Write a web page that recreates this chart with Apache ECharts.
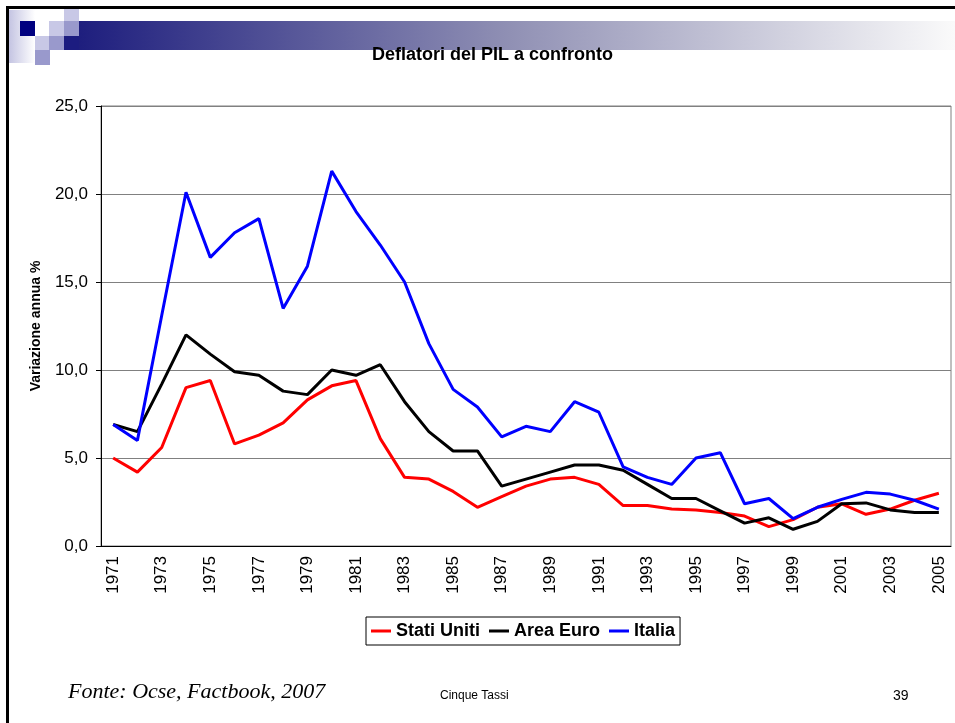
<!DOCTYPE html>
<html>
<head>
<meta charset="utf-8">
<title>Deflatori del PIL a confronto</title>
<script src="https://cdn.jsdelivr.net/npm/echarts@6/dist/echarts.min.js"></script>
<style>
  html, body { margin: 0; padding: 0; background: #fff; }
  #chart { width: 955px; height: 723px; }
</style>
</head>
<body>
<div id="chart"></div>
<script>
// Data (variazione annua %)
const years = [
  '1971', '1972', '1973', '1974', '1975', '1976', '1977', '1978', '1979', '1980',
  '1981', '1982', '1983', '1984', '1985', '1986', '1987', '1988', '1989', '1990',
  '1991', '1992', '1993', '1994', '1995', '1996', '1997', '1998', '1999', '2000',
  '2001', '2002', '2003', '2004', '2005'
];
const statiUniti = [
  5.0, 4.2, 5.6, 9.0, 9.4, 5.8, 6.3, 7.0, 8.3, 9.1,
  9.4, 6.1, 3.9, 3.8, 3.1, 2.2, 2.8, 3.4, 3.8, 3.9,
  3.5, 2.3, 2.3, 2.1, 2.05, 1.9, 1.7, 1.1, 1.5, 2.2,
  2.4, 1.8, 2.1, 2.6, 3.0
];
const areaEuro = [
  6.9, 6.5, 9.2, 12.0, 10.9, 9.9, 9.7, 8.8, 8.6, 10.0,
  9.7, 10.3, 8.2, 6.5, 5.4, 5.4, 3.4, 3.8, 4.2, 4.6,
  4.6, 4.3, 3.5, 2.7, 2.7, 2.0, 1.3, 1.6, 0.95, 1.4,
  2.4, 2.45, 2.05, 1.9, 1.9
];
const italia = [
  6.9, 6.0, 13.1, 20.1, 16.4, 17.8, 18.6, 13.5, 15.9, 21.3,
  19.0, 17.1, 15.0, 11.5, 8.9, 7.9, 6.2, 6.8, 6.5, 8.2,
  7.6, 4.5, 3.9, 3.5, 5.0, 5.3, 2.4, 2.7, 1.55, 2.2,
  2.65, 3.05, 2.95, 2.6, 2.1
];

const FONT = 'Arial, "Liberation Sans", sans-serif';

const chart = echarts.init(document.getElementById('chart'));

// slide decoration: frame, gradient band, squares
const square = (x, y, w, h, fill) => ({
  type: 'rect', z: 1, silent: true,
  shape: { x: x, y: y, width: w, height: h },
  style: { fill: fill }
});

const decor = [
  { type: 'rect', z: 0, silent: true,
    shape: { x: 9, y: 10, width: 26, height: 53 },
    style: { fill: { type: 'linear', x: 0, y: 0, x2: 1, y2: 0,
      colorStops: [{ offset: 0, color: '#c4c4e2' }, { offset: 1, color: '#ffffff' }] } } },
  { type: 'rect', z: 0, silent: true,
    shape: { x: 64, y: 21, width: 891, height: 29 },
    style: { fill: { type: 'linear', x: 0, y: 0, x2: 1, y2: 0,
      colorStops: [
        { offset: 0, color: '#1a1a7c' },
        { offset: 0.5, color: '#9090b4' },
        { offset: 1, color: '#fafafa' }
      ] } } },
  square(20, 21, 15, 15, '#000080'),
  square(49, 21, 15, 15, '#c8c8e6'),
  square(64, 9, 15, 12, '#c8c8e6'),
  square(64, 21, 15, 15, '#9999cc'),
  square(64, 36, 15, 14, '#1c1c80'),
  square(35, 36, 14, 14, '#c8c8e6'),
  square(49, 36, 15, 14, '#9999cc'),
  square(35, 50, 15, 15, '#9999cc'),
  square(6, 6, 949, 3, '#000000'),
  square(6, 6, 3, 717, '#000000'),
  { type: 'text', silent: true, left: 68, top: 681,
    style: { text: 'Fonte: Ocse, Factbook, 2007', fill: '#000',
      font: 'italic 22px "Times New Roman", "Liberation Serif", serif' } },
  { type: 'text', silent: true, left: 440, top: 690,
    style: { text: 'Cinque Tassi', fill: '#000', font: '12px ' + FONT } },
  { type: 'text', silent: true, left: 893, top: 689,
    style: { text: '39', fill: '#000', font: '14px ' + FONT } }
];

const lineSeries = (name, data, color) => ({
  name: name,
  type: 'line',
  data: data,
  symbol: 'none',
  lineStyle: { color: color, width: 3 },
  itemStyle: { color: color },
  emphasis: { disabled: true },
  animation: false
});

const option = {
  animation: false,
  title: {
    text: 'Deflatori del PIL a confronto',
    left: 367,
    top: 41,
    textStyle: { fontFamily: FONT, fontSize: 18, fontWeight: 'bold', color: '#000' }
  },
  legend: {
    left: 366,
    top: 617,
    padding: [5, 5],
    itemGap: 9,
    icon: 'rect',
    itemWidth: 20,
    itemHeight: 3,
    borderColor: '#000',
    borderWidth: 1,
    textStyle: { fontFamily: FONT, fontSize: 18, fontWeight: 'bold', color: '#000' },
    data: ['Stati Uniti', 'Area Euro', 'Italia']
  },
  grid: {
    left: 101, right: 4, top: 106, bottom: 177,
    show: true, borderColor: '#808080', borderWidth: 1
  },
  xAxis: {
    type: 'category',
    data: years,
    boundaryGap: true,
    axisLine: { lineStyle: { color: '#000', width: 1 } },
    axisTick: { interval: 0, length: 5, lineStyle: { color: '#000' } },
    axisLabel: {
      interval: 1, rotate: 90, margin: 10,
      fontFamily: FONT, fontSize: 17, color: '#000'
    },
    splitLine: { show: false }
  },
  yAxis: {
    type: 'value',
    min: 0, max: 25, interval: 5,
    name: 'Variazione annua %',
    nameLocation: 'middle',
    nameGap: 58,
    nameTextStyle: { fontFamily: FONT, fontSize: 14, fontWeight: 'bold', color: '#000' },
    axisLine: { show: true, lineStyle: { color: '#000', width: 1 } },
    axisTick: { show: true, length: 5, lineStyle: { color: '#000' } },
    axisLabel: {
      margin: 13, fontFamily: FONT, fontSize: 17, color: '#000',
      formatter: v => v.toFixed(1).replace('.', ',')
    },
    splitLine: { lineStyle: { color: '#808080', width: 1 } }
  },
  graphic: decor,
  series: [
    lineSeries('Stati Uniti', statiUniti, '#ff0000'),
    lineSeries('Area Euro', areaEuro, '#000000'),
    lineSeries('Italia', italia, '#0000ff')
  ]
};

chart.setOption(option);
</script>
</body>
</html>
